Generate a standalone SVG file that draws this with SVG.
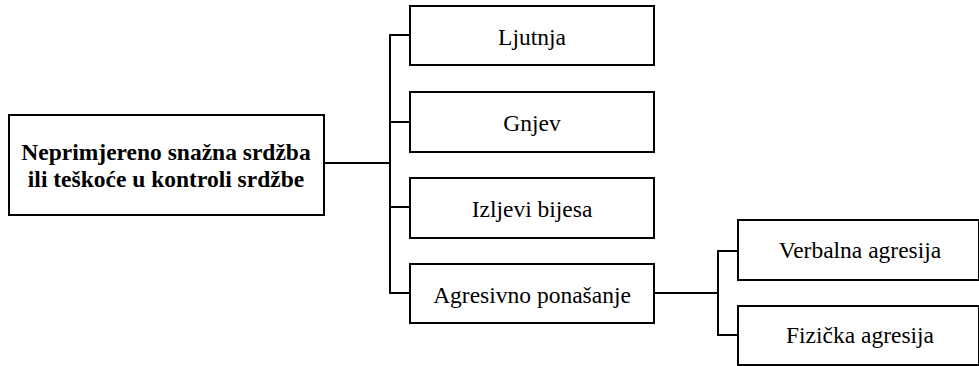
<svg xmlns="http://www.w3.org/2000/svg" width="979" height="366" viewBox="0 0 979 366">
<style>
.box{fill:#fff;stroke:#000;stroke-width:2}
text{font-family:'Liberation Serif','Times New Roman',Times,serif;font-size:23.5px;fill:#000;text-anchor:middle}
.b{font-weight:bold}
.c{fill:none;stroke:#000;stroke-width:2}
</style>
<rect width="979" height="366" fill="#fff"/>
<g id="connectors">
<path class="c" d="M324,163 H390"/>
<path class="c" d="M410,35 H390 V293 H410"/>
<path class="c" d="M390,122 H410"/>
<path class="c" d="M390,207 H410"/>
<path class="c" d="M654,293 H718"/>
<path class="c" d="M738,251 H718 V335 H738"/>
</g>
<g id="root">
<rect class="box" x="9" y="115" width="315" height="100"/>
<text class="b" x="166" y="160">Neprimjereno snažna srdžba</text>
<text class="b" x="166" y="187">ili teškoće u kontroli srdžbe</text>
</g>
<g id="ljutnja">
<rect class="box" x="410" y="6" width="244" height="59"/>
<text x="532" y="45">Ljutnja</text>
</g>
<g id="gnjev">
<rect class="box" x="410" y="92" width="244" height="60"/>
<text x="532" y="131">Gnjev</text>
</g>
<g id="izljevi">
<rect class="box" x="410" y="178" width="244" height="60"/>
<text x="532" y="217">Izljevi bijesa</text>
</g>
<g id="agresivno">
<rect class="box" x="410" y="264" width="244" height="59"/>
<text x="532" y="303">Agresivno ponašanje</text>
</g>
<g id="verbalna">
<rect class="box" x="738" y="220" width="241" height="60"/>
<text x="860" y="258">Verbalna agresija</text>
</g>
<g id="fizicka">
<rect class="box" x="738" y="306" width="241" height="59"/>
<text x="860" y="343">Fizička agresija</text>
</g>
</svg>
